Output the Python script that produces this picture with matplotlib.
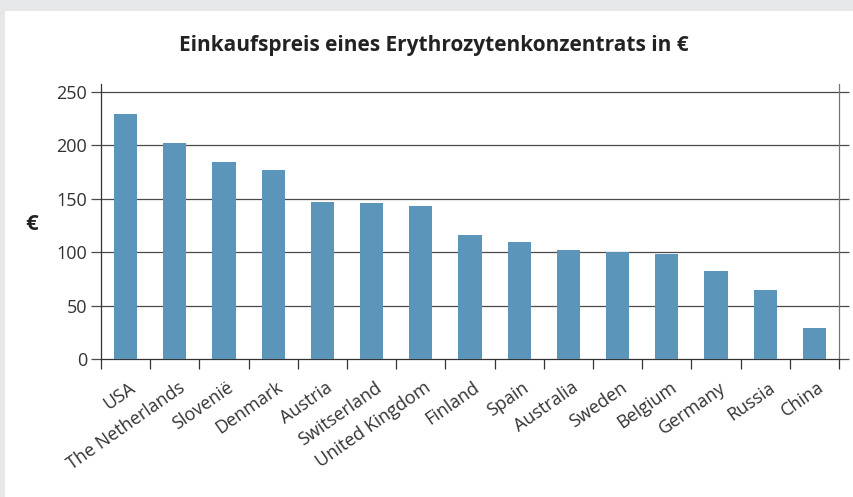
import matplotlib.pyplot as plt
import matplotlib.patches as mpatches
import numpy as np

countries = ["USA", "The Netherlands", "Slovenië", "Denmark", "Austria",
             "Switserland", "United Kingdom", "Finland", "Spain", "Australia",
             "Sweden", "Belgium", "Germany", "Russia", "China"]
prices = [229, 202, 184, 177, 147, 146, 143, 116, 110, 102, 100, 98, 82, 65, 29]
yticks = [0, 50, 100, 150, 200, 250]

plt.rcParams['font.family'] = ['Open Sans', 'DejaVu Sans']

fig = plt.figure(figsize=(8.54, 4.97), dpi=100, facecolor='#e6e7e9')
# white panel on the grey page
fig.patches.append(mpatches.Rectangle((5 / 854, 0), 1, 1 - 11 / 497,
                                      transform=fig.transFigure,
                                      facecolor='white', edgecolor='none', zorder=-5))

ax = fig.add_axes([101 / 854, (497 - 359) / 497, 738 / 854, 275 / 497])
ax.set_zorder(2)
ax.set_facecolor('white')

x = np.arange(len(countries))
ax.bar(x, prices, width=0.47, color='#5b95ba', zorder=3)

ax.set_xlim(-0.5, len(countries) - 0.5)
ax.set_ylim(0, 257.5)

# gridlines
for v in yticks[1:]:
    ax.axhline(v, color='#4a4a4a', lw=0.9, zorder=1)

ax.set_yticks(yticks)
ax.set_yticklabels([str(v) for v in yticks], fontsize=13, color='#333333')
ax.tick_params(axis='y', which='both', direction='out', length=7, width=0.9,
               color='#4a4a4a', right=True, pad=3)

# category boundary ticks
ax.set_xticks(np.arange(len(countries) + 1) - 0.5)
ax.set_xticklabels([])
ax.tick_params(axis='x', direction='out', length=7, width=0.9, color='#333333')

for i, name in enumerate(countries):
    ax.annotate(name, xy=(i, 0), xycoords=('data', 'axes fraction'),
                xytext=(2, -14), textcoords='offset points',
                rotation=35, rotation_mode='anchor', ha='right', va='top',
                fontsize=13, color='#333333')

for s in ['left', 'bottom']:
    ax.spines[s].set_color('#333333')
    ax.spines[s].set_linewidth(0.9)
ax.spines['right'].set_color('#777777')
ax.spines['right'].set_linewidth(0.9)
ax.spines['top'].set_visible(False)

fig.text(434 / 854, 1 - 45 / 497, "Einkaufspreis eines Erythrozytenkonzentrats in €",
         fontsize=15, fontweight='bold', color='#222222', ha='center', va='center')
fig.text(32 / 854, 1 - 225 / 497, "€", fontsize=16, fontweight='bold',
         color='#222222', ha='center', va='center')

fig.savefig("out.png", dpi=100, facecolor=fig.get_facecolor())
